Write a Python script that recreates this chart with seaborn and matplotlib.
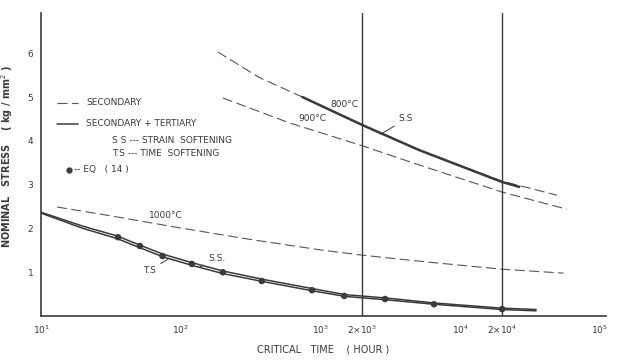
import numpy as np
import pandas as pd
import seaborn as sns
import matplotlib.pyplot as plt

# curvas "secondary" (trazo discontinuo)
t_800 = [184, 363, 743, 2000, 5090, 20000, 49300]
s_800 = [6.03, 5.45, 5.00, 4.36, 3.79, 3.08, 2.76]
t_900 = [200, 600, 2030, 5090, 20000, 58000]
s_900 = [4.98, 4.41, 3.88, 3.45, 2.83, 2.44]
t_1000 = [13, 30, 100, 300, 1000, 2000, 6000, 20000, 55000]
s_1000 = [2.49, 2.30, 2.01, 1.76, 1.51, 1.39, 1.23, 1.07, 0.98]

# secondary + tertiary (trazo continuo)
t_800ss = [743, 2000, 5090, 20000, 26500]
s_800ss = [5.00, 4.36, 3.79, 3.06, 2.95]
t_low = [10, 20, 35, 50, 75, 120, 200, 400, 900, 1500, 3000, 6500, 20000, 35000]
s_ss = [2.37, 2.05, 1.83, 1.63, 1.41, 1.22, 1.03, 0.83, 0.62, 0.49, 0.41, 0.30, 0.18, 0.15]
s_ts = [2.35, 2.00, 1.77, 1.57, 1.35, 1.16, 0.97, 0.78, 0.57, 0.45, 0.37, 0.27, 0.15, 0.12]

# puntos EQ (14)
t_eq = [35.5, 51, 74, 120, 200, 380, 870, 1480, 2900, 6500, 20000]
s_eq = [1.80, 1.60, 1.37, 1.19, 1.00, 0.80, 0.59, 0.46, 0.39, 0.27, 0.16]

xticks = [10, 100, 1000, 2000, 10000, 20000, 100000]
xlabels = ['10$^1$', '10$^2$', '10$^3$', '2×10$^3$', '10$^4$', '2×10$^4$', '10$^5$']

sns.set_style("white")
plt.rcParams['font.family'] = ['DejaVu Sans']
ink = '#3a3a3a'

fig = plt.figure(figsize=(6.23, 3.6), dpi=100)
ax = fig.add_axes([0.066, 0.122, 0.906, 0.842])

dash = dict(color='#555555', lw=0.8, dashes=(9, 4))
sns.lineplot(x=t_800, y=s_800, ax=ax, **dash)
sns.lineplot(x=t_900, y=s_900, ax=ax, **dash)
sns.lineplot(x=t_1000, y=s_1000, ax=ax, **dash)

sns.lineplot(x=t_800ss, y=s_800ss, ax=ax, color=ink, lw=1.8)
sns.lineplot(x=t_low, y=s_ss, ax=ax, color=ink, lw=1.1)
sns.lineplot(x=t_low, y=s_ts, ax=ax, color=ink, lw=1.1)
sns.scatterplot(x=t_eq, y=s_eq, ax=ax, color=ink, s=22, edgecolor='none', zorder=5)

for xv in [2000, 20000]:
    ax.plot([xv, xv], [0, 6.95], color=ink, lw=1.0)

ax.set_xscale('log')
ax.set_xlim(10, 1.1e5)
ax.set_ylim(0, 6.92)
ax.set_xticks(xticks)
ax.set_xticklabels(xlabels, fontsize=6.5, color=ink)
ax.xaxis.set_minor_locator(plt.NullLocator())
ax.set_yticks([1, 2, 3, 4, 5, 6])
ax.set_yticklabels(['1', '2', '3', '4', '5', '6'], fontsize=6.5, color=ink)
ax.tick_params(axis='both', length=3, width=0.8, color=ink, direction='inout', pad=4)

for s in ['top', 'right']:
    ax.spines[s].set_visible(False)
for s in ['left', 'bottom']:
    ax.spines[s].set_color(ink)
    ax.spines[s].set_linewidth(1.2)

ax.set_xlabel('CRITICAL   TIME    ( HOUR )', fontsize=7, color=ink, labelpad=6)
ax.set_ylabel('NOMINAL   STRESS    ( kg / mm$^2$ )', fontsize=7, color=ink,
              fontweight='bold')
ax.yaxis.set_label_coords(-0.046, 0.525)

# anotaciones de curvas
fs = 6.5
ax.text(78, 2.3, '1000°C', fontsize=fs, color=ink, ha='center', va='center')
ax.text(1480, 4.82, '800°C', fontsize=fs, color=ink, ha='center', va='center')
ax.text(875, 4.52, '900°C', fontsize=fs, color=ink, ha='center', va='center')
arrow = dict(arrowstyle='-', color=ink, lw=0.7, shrinkA=1, shrinkB=0)
ax.annotate('S.S', xy=(2700, 4.15), xytext=(4100, 4.5), fontsize=fs, color=ink,
            ha='center', va='center', arrowprops=arrow)
ax.annotate('S.S.', xy=(137, 1.12), xytext=(181, 1.32), fontsize=fs, color=ink,
            ha='center', va='center', arrowprops=arrow)
ax.annotate('T.S', xy=(81, 1.30), xytext=(60, 1.05), fontsize=fs, color=ink,
            ha='center', va='center', arrowprops=arrow)

# leyenda dibujada a mano como en el original
tr = ax.transAxes
ax.plot([0.028, 0.066], [0.703, 0.703], transform=tr, **dash)
ax.text(0.08, 0.703, 'SECONDARY', transform=tr, fontsize=fs, color=ink, va='center')
ax.plot([0.028, 0.066], [0.634, 0.634], transform=tr, color=ink, lw=1.1)
ax.text(0.08, 0.634, 'SECONDARY + TERTIARY', transform=tr, fontsize=fs, color=ink, va='center')
ax.text(0.126, 0.58, 'S S --- STRAIN  SOFTENING', transform=tr, fontsize=fs, color=ink, va='center')
ax.text(0.126, 0.536, 'T.S --- TIME  SOFTENING', transform=tr, fontsize=fs, color=ink, va='center')
ax.plot([0.05], [0.483], 'o', transform=tr, color=ink, ms=3.5)
ax.text(0.058, 0.483, '-- EQ   ( 14 )', transform=tr, fontsize=fs, color=ink, va='center')

fig.savefig('out.png', dpi=100)
